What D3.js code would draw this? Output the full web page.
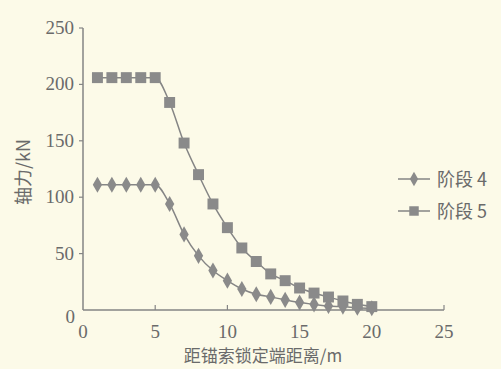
<!DOCTYPE html>
<html><head><meta charset="utf-8">
<script src="https://cdn.jsdelivr.net/npm/d3@7"></script>
<style>body{margin:0;background:#fcfae8;}svg{display:block;}</style>
</head><body>
<svg id="c" width="501" height="369"></svg>
<script>
const xs = [1,2,3,4,5,6,7,8,9,10,11,12,13,14,15,16,17,18,19,20];
const stage4 = [111,111,111,111,111,94,67,48,35,26,18.6,14,11.6,9,6.6,5,3.5,3,2,1.5];
const stage5 = [206,206,206,206,206,184,148,120,94,73,55,43,32,26,19.5,15,11.5,8,5,3];
const seriesNames = ["阶段 4","阶段 5"];
const xTicks = [0,5,10,15,20,25];
const yTicks = [0,50,100,150,200,250];
const xTitle = "距锚索锁定端距离/m";
const yTitle = "轴力/kN";

const svg = d3.select("#c");
const col = "#858585", txt = "#6a6a6a";
const x = d3.scaleLinear().domain([0,25]).range([83,444]);
const y = d3.scaleLinear().domain([0,250]).range([310,28]);
const serif = "'Liberation Serif','DejaVu Serif',serif";
const cjk = "'Noto Sans CJK SC',sans-serif";

// axes
svg.append("line").attr("x1",x(0)).attr("x2",x(25)).attr("y1",y(0)).attr("y2",y(0)).attr("stroke",col).attr("stroke-width",1.5);
svg.append("line").attr("x1",x(0)).attr("x2",x(0)).attr("y1",y(0)).attr("y2",y(250)).attr("stroke",col).attr("stroke-width",1.5);
xTicks.forEach(t=>{
  if(t>0) svg.append("line").attr("x1",x(t)).attr("x2",x(t)).attr("y1",y(0)).attr("y2",y(0)-5).attr("stroke",col).attr("stroke-width",1.2);
  svg.append("text").attr("x",x(t)).attr("y",338).attr("text-anchor","middle")
    .attr("font-family",serif).attr("font-size",19).attr("fill",txt).text(t);
});
yTicks.forEach(t=>{
  if(t>0) svg.append("line").attr("x1",x(0)).attr("x2",x(0)-4).attr("y1",y(t)).attr("y2",y(t)).attr("stroke",col).attr("stroke-width",1.2);
  svg.append("text").attr("x",t===0?75:74).attr("y",y(t)+(t===0?13:6)).attr("text-anchor","end")
    .attr("font-family",serif).attr("font-size",19).attr("fill",txt).text(t);
});
svg.append("text").attr("x",263).attr("y",362).attr("text-anchor","middle")
  .attr("font-family",cjk).attr("font-size",17).attr("fill",txt).text(xTitle);
svg.append("text").attr("transform","translate(30,172) rotate(-90)").attr("text-anchor","middle")
  .attr("font-family",cjk).attr("font-size",18).attr("fill",txt).text(yTitle);

const line = d3.line().x(d=>x(d[0])).y(d=>y(d[1])).curve(d3.curveMonotoneX);
const data4 = xs.map((v,i)=>[v,stage4[i]]);
const data5 = xs.map((v,i)=>[v,stage5[i]]);

function drawSeries(data, shape){
  svg.append("path").datum(data).attr("d",line).attr("fill","none").attr("stroke",col).attr("stroke-width",1.5);
  const sym = d3.symbol().type(shape==="sq"?d3.symbolSquare:d3.symbolDiamond).size(shape==="sq"?120:75);
  svg.selectAll(null).data(data).enter().append("path")
    .attr("transform",d=>`translate(${x(d[0])},${y(d[1])})`)
    .attr("d",sym).attr("fill","#8a8a8a");
}
drawSeries(data4,"di");
drawSeries(data5,"sq");

// legend
[[179,"di"],[211,"sq"]].forEach(([ly,s],i)=>{
  svg.append("line").attr("x1",398).attr("x2",430).attr("y1",ly).attr("y2",ly).attr("stroke",col).attr("stroke-width",1.5);
  const sym = d3.symbol().type(s==="sq"?d3.symbolSquare:d3.symbolDiamond).size(s==="sq"?90:60);
  svg.append("path").attr("transform",`translate(414,${ly})`).attr("d",sym).attr("fill","#8a8a8a");
  svg.append("text").attr("x",437).attr("y",ly+7).attr("font-family",cjk).attr("font-size",18).attr("fill",txt).text(seriesNames[i]);
});
</script>
</body></html>
